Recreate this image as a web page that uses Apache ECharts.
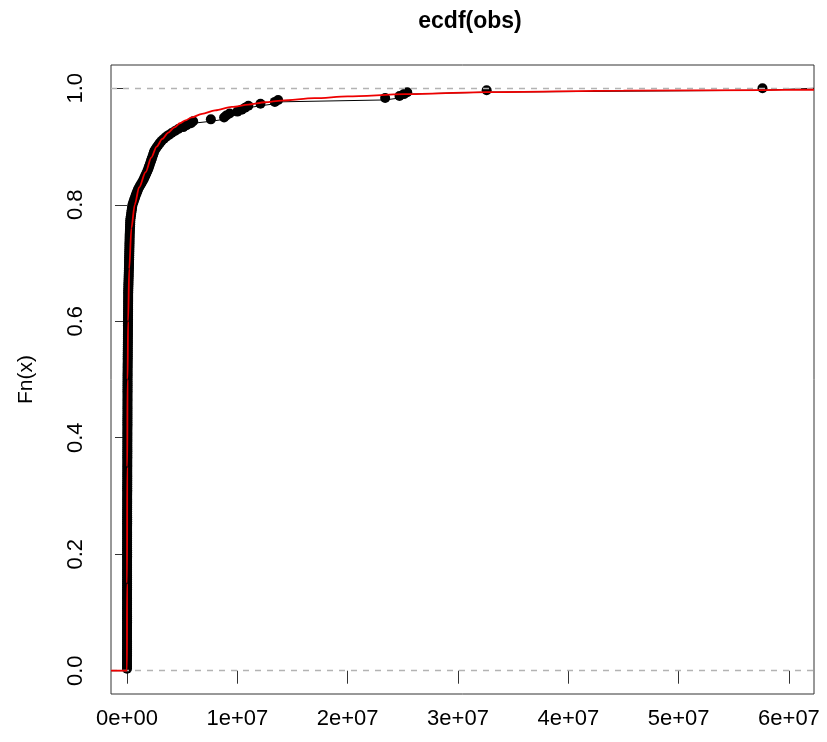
<!DOCTYPE html>
<html>
<head>
<meta charset="utf-8">
<script src="https://cdn.jsdelivr.net/npm/echarts@6/dist/echarts.min.js"></script>
<style>html,body{margin:0;padding:0;background:#fff}#c{width:827px;height:742px}</style>
</head>
<body>
<div id="c"></div>
<script>
const obs = [
 800,1000,1200,1400,1500,1700,1800,2000,2100,2200,2400,2500,2600,2700,2900,3000,3100,3200,3300,3500,3600,3700,3800,3900,4100,4200,4400,4600,4800,5000,
 5100,5300,5400,5600,5700,5900,6000,6200,6300,6500,6600,6800,6900,7100,7200,7400,7500,7700,7800,8000,8200,8300,8500,8700,8900,9100,9300,9500,9700,10000,
 10300,10600,10900,11200,11500,11800,12100,12400,12700,13000,13300,13600,13900,14200,14500,14800,15100,15500,15800,16200,16500,16900,17200,17600,18000,18400,18800,19200,19600,20000,
 20500,21000,21500,22000,22500,23000,23500,24000,24500,25000,25500,26000,26500,27000,27500,28000,28500,29000,29500,30000,30500,31000,31500,32000,32500,33000,33500,34000,34500,35000,
 35500,36000,36500,37000,37500,38000,38500,39000,39500,40000,40500,41000,41500,42000,42500,43000,43500,44000,44500,45000,45500,46000,46500,47000,47500,48000,48500,49000,49500,50000,
 51000,52000,53000,54000,55000,56500,58000,59500,61000,62500,64000,65500,67000,68500,70000,71500,73000,74500,76000,77500,79000,80500,82000,83000,84000,85000,86000,87500,89000,90000,
 91000,92500,94000,95500,97000,98500,100000,101500,103000,104500,106000,107000,108000,109000,110000,
 115000,120000,125000,130000,135000,140000,145000,150000,155000,160000,165000,170000,175000,180000,185000,
 190000,194000,198000,202000,206000,210000,214000,218000,222000,226000,230000,234000,238000,242000,246000,
 255000,263000,271000,279000,287000,294000,300000,
 320000,345000,370000,395000,420000,445000,470000,500000,
 560000,620000,680000,740000,800000,870000,940000,1000000,
 1100000,1200000,1300000,1400000,1500000,
 1580000,1660000,1740000,1820000,1900000,
 1960000,2020000,2080000,2140000,2200000,
 2260000,2320000,2380000,2440000,2500000,
 2620000,2740000,2870000,3000000,
 3150000,3350000,3550000,3800000,
 4050000,4350000,4650000,
 5100000,5400000,
 5800000,6000000,
 7600000,8800000,9000000,9300000,10000000,10400000,10700000,11000000,12100000,13400000,13700000,
 23400000,24700000,25100000,25400000,32600000,57600000
];
// fitted CDF (red curve)
const fitX = [-1450000,0,5000,20000,50000,100000,200000,400000,700000,1100000,1690000,2200000,2690000,3200000,3740000,4300000,4800000,5300000,5860000,6800000,7980000,9500000,11000000,12500000,14000000,17000000,20000000,25200000,32600000,45000000,57600000,62270000];
const fitY = [0,0,0.15,0.35,0.5,0.6,0.69,0.76,0.80,0.83,0.856,0.881,0.900,0.913,0.924,0.933,0.940,0.945,0.950,0.956,0.962,0.968,0.972,0.976,0.979,0.983,0.986,0.990,0.9935,0.996,0.997,0.9975];
const xTicks = [0,1e7,2e7,3e7,4e7,5e7,6e7];
const xTickLabels = ["0e+00","1e+07","2e+07","3e+07","4e+07","5e+07","6e+07"];
const yTicks = [0,0.2,0.4,0.6,0.8,1.0];
const yTickLabels = ["0.0","0.2","0.4","0.6","0.8","1.0"];

const xMin = -1450000, xMax = 62270000, yMin = -0.04, yMax = 1.04;
const n = obs.length;
const pts = obs.map((v,i)=>[v,(i+1)/n]);
const stepData = [[xMin,0]].concat(pts).concat([[xMax,1]]);
const fitData = fitX.map((v,i)=>[v,fitY[i]]);
const FONT = 'Liberation Sans';

const chart = echarts.init(document.getElementById('c'), null, {renderer:'canvas'});
chart.setOption({
  animation:false,
  backgroundColor:'#fff',
  title:{text:'ecdf(obs)', left:465, top:5, textAlign:'center',
    textStyle:{fontFamily:FONT, fontSize:23, fontWeight:'bold', color:'#000'}},
  grid:{left:111, right:13, top:65, bottom:48, show:true, borderColor:'#333', borderWidth:1, backgroundColor:'transparent'},
  xAxis:{type:'value', min:xMin, max:xMax,
    axisLine:{show:false}, splitLine:{show:false},
    axisTick:{show:true, inside:false, length:13, customValues:xTicks, lineStyle:{color:'#333'}},
    axisLabel:{show:true, customValues:xTicks, margin:14, fontFamily:FONT, fontSize:22, color:'#000',
      formatter:(v)=>{const i=xTicks.indexOf(v); return i>=0?xTickLabels[i]:'';}}},
  yAxis:{type:'value', min:yMin, max:yMax,
    axisLine:{show:false}, splitLine:{show:false},
    axisTick:{show:true, length:12, customValues:yTicks, lineStyle:{color:'#333'}},
    axisLabel:{show:true, customValues:yTicks, rotate:90, margin:24, fontFamily:FONT, fontSize:22, color:'#000',
      formatter:(v)=>{const i=yTicks.findIndex(t=>Math.abs(t-v)<1e-9); return i>=0?yTickLabels[i]:'';}}},
  graphic:[{type:'text', left:16, top:355, rotation:Math.PI/2,
    style:{text:'Fn(x)', fontFamily:FONT, fontSize:21, fill:'#000'}}],
  series:[
    {type:'line', data:stepData, step:'end', showSymbol:false, symbol:'none',
     lineStyle:{color:'#000', width:1}, z:2, silent:true},
    {type:'scatter', data:pts, symbol:'circle', symbolSize:10,
     itemStyle:{color:'#000', opacity:1}, z:3, silent:true},
    {type:'line', data:[], z:4, silent:true,
     markLine:{silent:true, symbol:'none', label:{show:false},
       lineStyle:{color:'#b3b3b3', type:[6,6], width:1.3},
       data:[{yAxis:0},{yAxis:1}]}},
    {type:'line', data:fitData, showSymbol:false, symbol:'none', smooth:0.3, smoothMonotone:'x',
     lineStyle:{color:'#ee0000', width:1.8}, z:5, silent:true}
  ]
});
</script>
</body>
</html>
